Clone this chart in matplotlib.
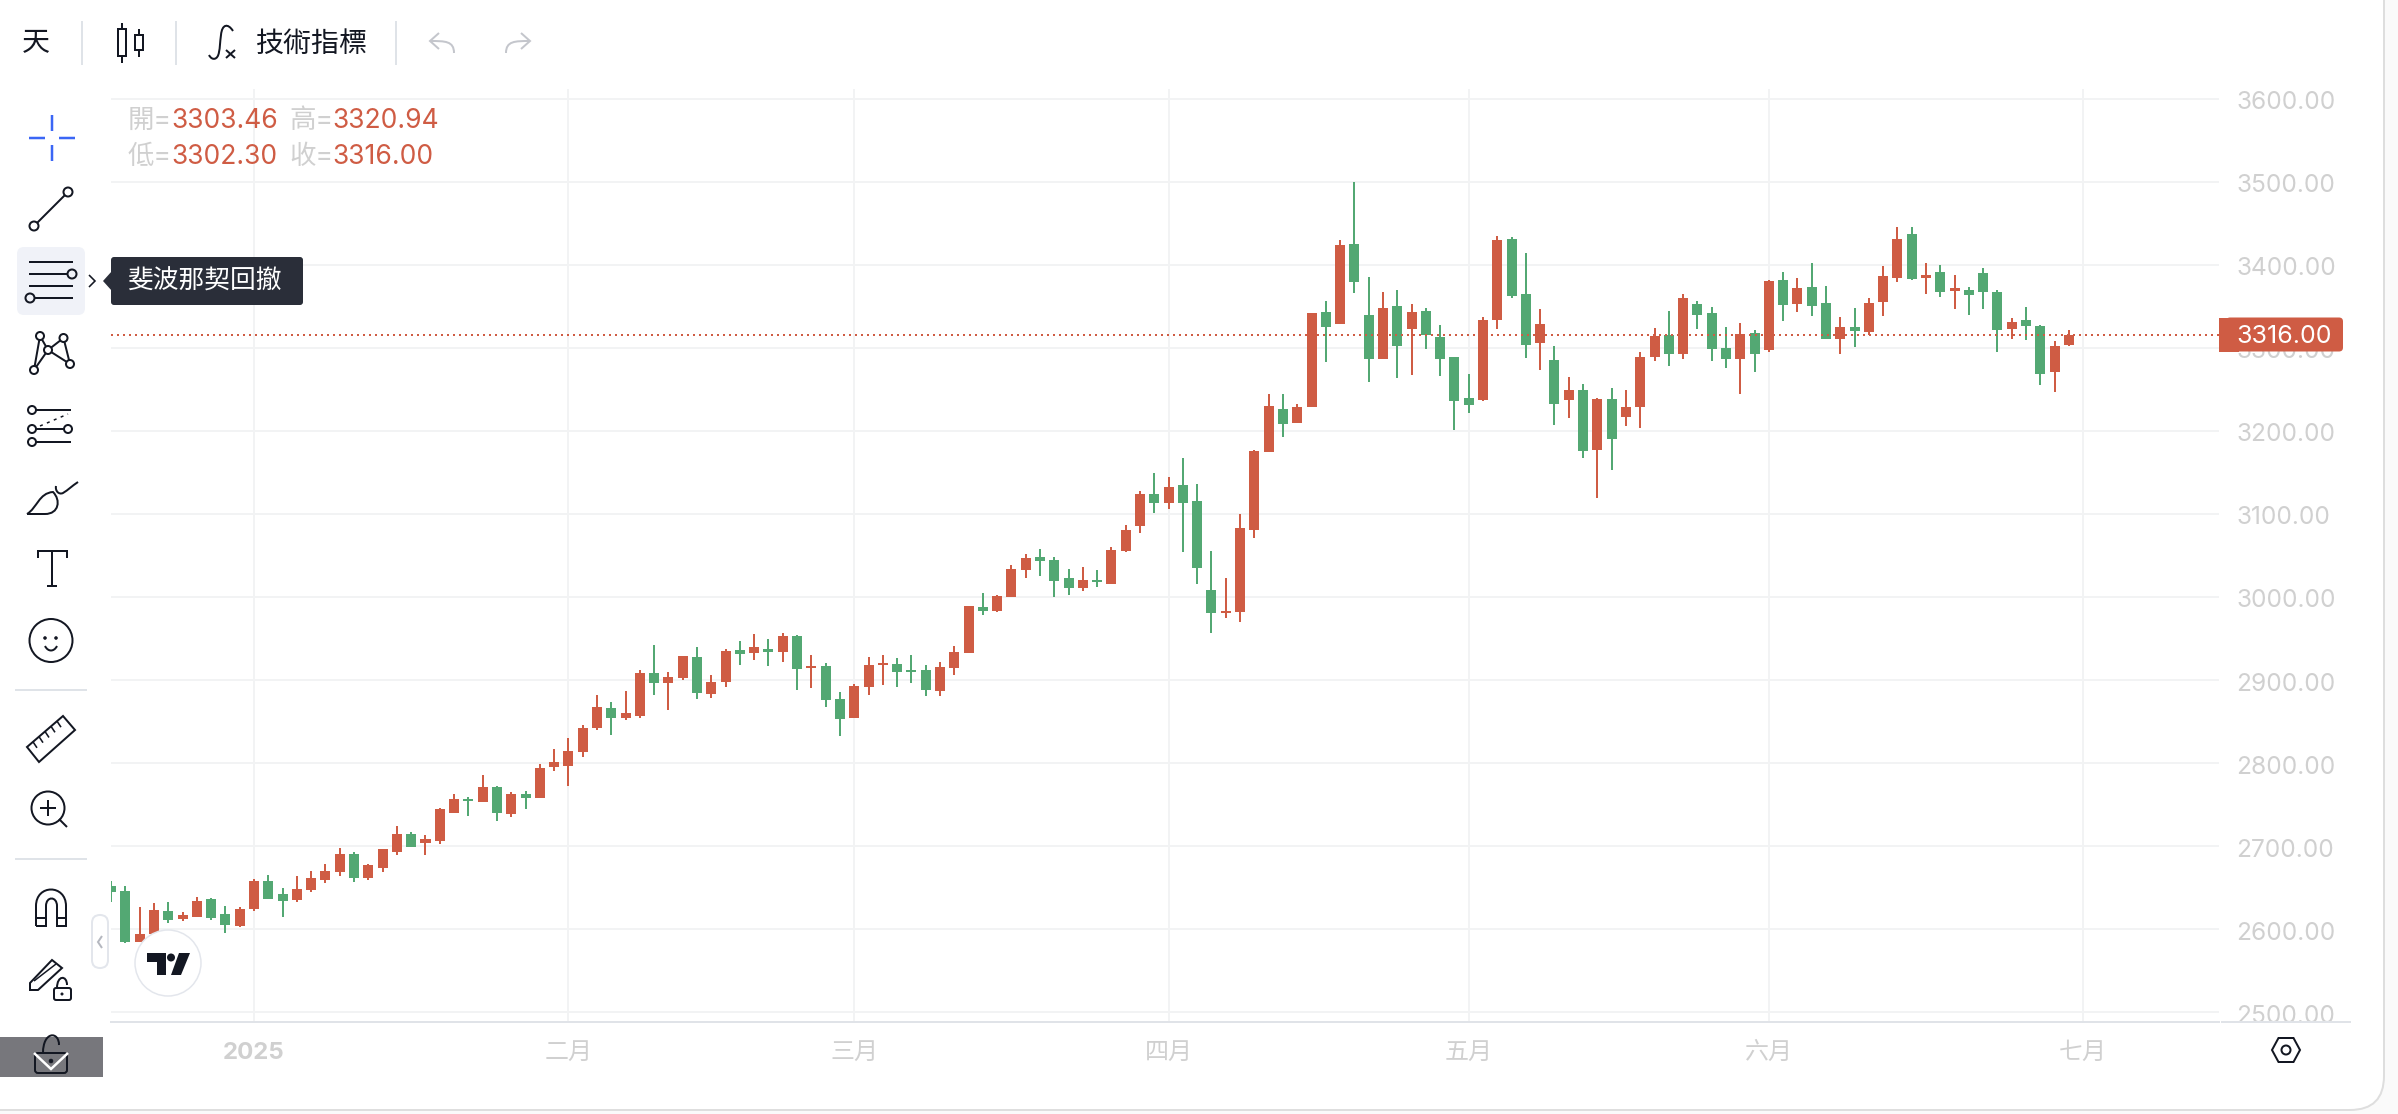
import matplotlib
matplotlib.use('Agg')
import matplotlib.pyplot as plt
import matplotlib.patches as mpatches
from matplotlib.path import Path
from matplotlib.transforms import ScaledTranslation

W, H = 2398, 1114
plt.rcParams['font.family'] = ['Inter', 'Noto Sans CJK TC', 'DejaVu Sans']

# Daily candles, the first bar of 2025 sits at index 0
first_index = -10
opens = [
    2651.5, 2645.5, 2584.1, 2593.8, 2621.5, 2611.8, 2614.2, 2635.9, 2617.8, 2603.4,
    2623.9, 2657.6, 2641.9, 2634.7, 2646.7, 2658.8, 2668.4, 2690.1, 2661.2, 2673.2,
    2692.5, 2714.2, 2703.3, 2705.7, 2739.4, 2756.3, 2752.7, 2770.7, 2738.2, 2762.3,
    2757.5, 2794.8, 2796.0, 2812.9, 2841.8, 2865.9, 2853.8, 2856.2, 2908.0, 2896.0,
    2902.0, 2927.3, 2882.7, 2897.2, 2935.7, 2932.1, 2936.9, 2933.3, 2952.6, 2914.0,
    2916.4, 2876.7, 2853.8, 2891.2, 2917.6, 2918.8, 2911.6, 2911.6, 2886.3, 2914.0,
    2932.1, 2987.6, 2982.8, 3000.0, 3032.6, 3048.3, 3044.7, 3023.0, 3010.9, 3020.6,
    3015.8, 3055.5, 3085.6, 3124.1, 3113.3, 3134.9, 3115.7, 3008.5, 2980.8, 2982.0,
    3080.8, 3174.9, 3226.7, 3209.8, 3229.1, 3343.4, 3329.0, 3425.3, 3339.8, 3286.9,
    3350.7, 3323.0, 3344.7, 3313.3, 3289.3, 3239.9, 3237.5, 3333.8, 3431.3, 3365.1,
    3306.1, 3285.7, 3237.5, 3249.5, 3177.3, 3238.7, 3217.0, 3229.0, 3289.2, 3315.7,
    3292.8, 3353.0, 3342.2, 3300.0, 3286.8, 3318.1, 3297.6, 3381.9, 3353.0, 3373.5,
    3354.2, 3310.9, 3325.3, 3319.3, 3355.4, 3384.3, 3437.3, 3384.3, 3391.5, 3368.6,
    3369.8, 3390.3, 3367.4, 3322.9, 3333.7, 3326.5, 3271.1, 3303.46,
]
highs = [
    2657.6, 2651.5, 2626.3, 2631.1, 2632.3, 2620.2, 2638.3, 2637.1, 2627.5, 2626.3,
    2660.0, 2664.8, 2649.1, 2663.6, 2669.6, 2678.0, 2697.3, 2692.5, 2678.0, 2696.1,
    2723.8, 2716.6, 2712.9, 2745.5, 2762.3, 2758.7, 2785.2, 2771.9, 2764.7, 2765.9,
    2798.4, 2816.5, 2829.7, 2845.4, 2881.5, 2873.1, 2886.3, 2911.6, 2941.7, 2909.2,
    2928.5, 2939.3, 2905.6, 2936.9, 2946.5, 2955.0, 2948.9, 2956.2, 2953.8, 2929.7,
    2920.1, 2885.1, 2894.8, 2927.3, 2929.7, 2926.1, 2929.7, 2917.6, 2921.3, 2940.5,
    2988.7, 3004.4, 3002.0, 3038.1, 3051.9, 3057.9, 3048.3, 3033.8, 3036.2, 3032.6,
    3060.3, 3086.8, 3127.7, 3149.4, 3144.6, 3167.4, 3136.1, 3055.5, 3023.0, 3100.0,
    3177.1, 3244.7, 3244.7, 3232.7, 3342.2, 3356.7, 3430.1, 3500.0, 3385.6, 3367.5,
    3369.9, 3353.1, 3348.3, 3327.8, 3289.3, 3268.8, 3337.4, 3434.9, 3433.7, 3414.5,
    3347.1, 3302.5, 3265.2, 3256.8, 3239.9, 3251.9, 3249.5, 3295.2, 3324.1, 3344.6,
    3365.0, 3356.6, 3349.4, 3325.3, 3330.1, 3321.7, 3381.9, 3391.5, 3384.3, 3402.4,
    3374.7, 3337.3, 3348.2, 3360.2, 3398.7, 3445.7, 3445.7, 3402.4, 3399.9, 3387.9,
    3373.5, 3396.3, 3369.8, 3336.1, 3349.4, 3327.7, 3308.5, 3320.94,
]
lows = [
    2632.3, 2582.9, 2584.1, 2592.0, 2607.0, 2609.4, 2614.2, 2610.6, 2595.0, 2602.2,
    2621.5, 2635.9, 2614.2, 2632.3, 2644.3, 2655.2, 2663.6, 2656.4, 2658.8, 2668.4,
    2688.9, 2698.5, 2688.9, 2702.1, 2739.4, 2735.8, 2752.7, 2729.8, 2734.6, 2744.2,
    2757.5, 2790.0, 2771.9, 2806.9, 2839.4, 2833.4, 2851.4, 2853.8, 2881.5, 2863.5,
    2899.6, 2876.7, 2877.9, 2891.2, 2917.6, 2923.7, 2916.4, 2921.3, 2887.5, 2890.0,
    2867.1, 2832.2, 2853.8, 2881.5, 2893.6, 2891.2, 2896.0, 2880.3, 2880.3, 2905.6,
    2932.1, 2977.9, 2981.6, 3000.0, 3023.0, 3025.4, 3000.1, 3002.5, 3007.3, 3012.1,
    3015.8, 3054.3, 3077.2, 3101.2, 3106.0, 3054.3, 3015.8, 2956.8, 2974.8, 2970.0,
    3071.1, 3174.9, 3193.0, 3209.8, 3229.1, 3283.3, 3329.0, 3366.3, 3259.2, 3286.9,
    3264.0, 3267.6, 3298.9, 3266.4, 3201.4, 3221.9, 3236.3, 3323.0, 3360.3, 3288.1,
    3273.6, 3207.4, 3215.8, 3167.7, 3119.5, 3153.2, 3206.1, 3203.7, 3284.4, 3278.4,
    3286.8, 3322.9, 3284.4, 3275.9, 3244.6, 3271.1, 3295.2, 3332.5, 3343.4, 3338.5,
    3310.9, 3292.8, 3301.2, 3315.7, 3338.5, 3379.5, 3381.9, 3365.0, 3361.4, 3347.0,
    3339.8, 3347.0, 3295.2, 3310.9, 3309.7, 3255.5, 3247.1, 3302.30,
]
closes = [
    2644.3, 2584.1, 2593.8, 2622.7, 2610.6, 2616.6, 2633.5, 2613.0, 2604.6, 2623.9,
    2657.6, 2635.9, 2633.5, 2647.9, 2661.2, 2669.6, 2690.1, 2661.2, 2676.8, 2696.1,
    2714.2, 2698.5, 2708.1, 2744.2, 2756.3, 2753.9, 2770.7, 2739.4, 2762.3, 2757.5,
    2793.6, 2800.8, 2814.1, 2841.8, 2867.1, 2853.8, 2859.9, 2908.0, 2896.0, 2903.2,
    2928.5, 2883.9, 2897.2, 2934.5, 2930.9, 2939.3, 2933.3, 2952.6, 2912.8, 2916.4,
    2875.5, 2852.6, 2892.4, 2917.6, 2920.1, 2909.2, 2909.2, 2887.5, 2915.2, 2933.3,
    2988.7, 2982.8, 3000.8, 3033.3, 3047.1, 3043.4, 3019.4, 3010.9, 3020.6, 3018.2,
    3056.7, 3080.8, 3124.1, 3113.3, 3132.5, 3113.3, 3035.0, 2980.8, 2983.3, 3083.2,
    3175.9, 3230.3, 3208.6, 3229.1, 3342.2, 3325.4, 3424.1, 3379.6, 3286.9, 3348.3,
    3302.5, 3343.4, 3315.8, 3286.9, 3236.3, 3231.5, 3333.8, 3430.1, 3362.7, 3303.7,
    3329.0, 3232.7, 3249.5, 3176.1, 3238.7, 3190.6, 3229.0, 3289.2, 3314.5, 3292.8,
    3360.2, 3339.8, 3298.8, 3286.8, 3316.9, 3292.8, 3380.7, 3351.8, 3372.3, 3350.6,
    3310.9, 3325.3, 3320.5, 3354.2, 3386.7, 3431.2, 3383.1, 3387.9, 3367.4, 3372.3,
    3363.8, 3367.4, 3321.7, 3331.3, 3326.5, 3268.7, 3302.4, 3316.00,
]

price_ticks = [2500, 2600, 2700, 2800, 2900, 3000, 3100, 3200, 3300, 3400, 3500, 3600]
month_ticks = [0, 22, 42, 64, 85, 106, 128]
month_labels = ['2025', '二月', '三月', '四月', '五月', '六月', '七月']

UP = '#cf5c44'
DOWN = '#53a873'
INK = '#131722'
GREY_TEXT = '#d0d0d0'
GRID = '#f2f3f4'
RULE = '#e0e3e8'


def px(n):
    # pixels to points at 100 dpi
    return n * 0.72


fig = plt.figure(figsize=(W / 100, H / 100), dpi=100, facecolor='#fafafa')

# Rounded white card behind everything
back = fig.add_axes([0, 0, 1, 1], zorder=0)
back.set_xlim(0, W)
back.set_ylim(H, 0)
back.axis('off')
back.add_patch(mpatches.FancyBboxPatch((-60, -60), 2444, 1170, boxstyle='round,pad=0,rounding_size=34',
                                       fc='white', ec='#dedede', lw=px(2)))

# Price chart
ax = fig.add_axes([111 / W, 1 - 1021.7 / H, (2219 - 111) / W, (1021.7 - 89) / H], zorder=1)
ax.patch.set_alpha(0)
ax.set_xlim(-10.007, 137.5)
ax.set_ylim(2488.68, 3611.56)

xs = list(range(first_index, first_index + len(closes)))
colors = [UP if c >= o else DOWN for o, c in zip(opens, closes)]
bottoms = [min(o, c) for o, c in zip(opens, closes)]
heights = [abs(c - o) for o, c in zip(opens, closes)]
ax.vlines(xs, lows, highs, colors=colors, linewidth=px(2), zorder=3)
ax.bar(xs, heights, bottom=bottoms, width=0.7, color=colors, linewidth=0, zorder=3)

ax.axhline(closes[-1], color=UP, lw=px(2), ls=(0, (1, 2)), zorder=5)

ax.set_axisbelow(True)
ax.grid(True, color=GRID, lw=px(2))
ax.yaxis.tick_right()
ax.set_yticks(price_ticks)
ax.set_yticklabels([f'{p:.2f}' for p in price_ticks])
ax.set_xticks(month_ticks)
ax.set_xticklabels(month_labels)
ax.get_xticklabels()[0].set_fontweight('bold')
ax.tick_params(axis='y', length=0, pad=px(17.5), labelsize=px(24.5), labelcolor=GREY_TEXT)
ax.tick_params(axis='x', length=0, pad=px(20), labelsize=px(24), labelcolor=GREY_TEXT)
nudge = ScaledTranslation(0, -1.5 / 100, fig.dpi_scale_trans)
for label in ax.get_yticklabels():
    label.set_transform(label.get_transform() + nudge)
for side in ['top', 'left', 'right']:
    ax.spines[side].set_visible(False)
ax.spines['bottom'].set_color(RULE)
ax.spines['bottom'].set_linewidth(px(2))

# Toolbars and chart furniture are laid out in pixels on a top layer
ov = fig.add_axes([0, 0, 1, 1], zorder=2)
ov.set_xlim(0, W)
ov.set_ylim(H, 0)
ov.axis('off')


def line(points, color=INK, width=2.0, **kw):
    ov.plot([p[0] for p in points], [p[1] for p in points], color=color, lw=px(width),
            solid_capstyle='butt', solid_joinstyle='miter', **kw)


def dot(x, y, r=4.5, fc='white', ec=INK, width=2.0, zorder=4):
    ov.add_patch(mpatches.Circle((x, y), r, fc=fc, ec=ec, lw=px(width), zorder=zorder))


def curve(verts, codes, color=INK, width=2.0, fc='none'):
    ov.add_patch(mpatches.PathPatch(Path(verts, codes), fc=fc, ec=color, lw=px(width)))


def box(x0, y0, x1, y1, r=0, fc='none', ec=INK, width=2.0, zorder=2):
    ov.add_patch(mpatches.FancyBboxPatch((x0, y0), x1 - x0, y1 - y0,
                                         boxstyle=f'round,pad=0,rounding_size={r}',
                                         fc=fc, ec=ec, lw=px(width), zorder=zorder))


M, L, C = Path.MOVETO, Path.LINETO, Path.CURVE4

# Rest of the axis rule under the price scale
line([(2221, 1021.7), (2351, 1021.7)], color=RULE)

# Top toolbar
ov.text(36, 44, '天', fontsize=px(28), color=INK, ha='center', va='center')
for sx in [82, 176, 396]:
    line([(sx, 21), (sx, 65)], color='#dfe3e8')
line([(122, 23), (122, 29)])
line([(122, 56), (122, 63)])
box(118, 29, 126, 56)
line([(139, 29), (139, 35)])
line([(139, 50), (139, 57)])
box(135, 35, 143, 50)
curve([(233, 31), (228, 23), (222, 24), (221, 35), (220, 42), (220, 48), (219, 52), (218, 60), (212, 61), (209, 55)],
      [M, C, C, C, C, C, C, C, C, C])
line([(226, 50), (235, 58)])
line([(235, 50), (226, 58)])
ov.text(312, 44, '技術指標', fontsize=px(28), color=INK, ha='center', va='center')
for flip, x0 in [(1, 430), (-1, 530)]:
    curve([(x0, 41), (x0 + flip * 15, 41), (x0 + flip * 24, 41), (x0 + flip * 24, 53)], [M, C, C, C], color='#c4c6cc')
    line([(x0 + flip * 9, 33), (x0, 41), (x0 + flip * 9, 49)], color='#c4c6cc')

# Left toolbar: crosshair
blue = '#3b66f5'
line([(52, 115), (52, 131)], color=blue, width=2.5)
line([(52, 145), (52, 161)], color=blue, width=2.5)
line([(29, 137.5), (45, 137.5)], color=blue, width=2.5)
line([(59, 137.5), (75, 137.5)], color=blue, width=2.5)

# Trend line
line([(34, 226), (68, 192)])
dot(68, 192)
dot(34, 226)

# Fibonacci tool, highlighted, with its tooltip
box(17, 247, 85, 315, r=7, fc='#f0f2f8', ec='none', width=0, zorder=1)
line([(29, 262), (73, 262)])
line([(29, 274), (68, 274)])
line([(29, 286), (73, 286)])
line([(34, 298), (73, 298)])
dot(72, 274, fc='#f0f2f8')
dot(30, 298, fc='#f0f2f8')
line([(89, 275), (95, 281), (89, 287)], width=1.6)
box(111, 257, 303, 305, r=3, fc='#2a2e39', ec='none', width=0)
ov.add_patch(mpatches.Polygon([(103, 281), (112, 271), (112, 291)], fc='#2a2e39', ec='none'))
ov.text(205, 282, '斐波那契回撤', fontsize=px(25.7), color='white', ha='center', va='center')

# XABCD pattern
tl, tr, mid, br, bl = (40, 336), (63.5, 338), (48, 350), (70, 364), (34, 370)
for a, b in [(bl, tl), (tl, mid), (bl, mid), (mid, tr), (mid, br), (tr, br)]:
    line([a, b])
for p in [tl, tr, mid, br, bl]:
    dot(p[0], p[1], r=4)

# Multi-line tool
line([(32, 410), (71, 410)])
line([(32, 429), (68, 429)])
line([(32, 442), (71, 442)])
line([(40, 426), (68, 414)], width=1.5, ls=(0, (2, 3)))
dot(32, 410, r=4)
dot(32, 429, r=4)
dot(68, 429, r=4)
dot(32, 442, r=4)

# Brush
curve([(27, 514), (37, 508), (39, 493), (53, 492), (61, 500), (59, 514), (45, 514), (27, 514)],
      [M, C, C, C, C, C, C, L])
curve([(56, 486), (55, 491), (59, 495), (63, 493), (68, 490), (72, 486), (78, 482)], [M, C, C, C, C, C, C])

# Text tool
line([(38, 558), (38, 551), (67, 551), (67, 558)])
line([(52, 551), (52, 586)])
line([(47, 586), (57, 586)])

# Emoji
dot(51, 640.5, r=21.5, zorder=0.5)
dot(45, 638, r=1.5, fc=INK, width=0.5)
dot(56, 638, r=1.5, fc=INK, width=0.5)
curve([(45, 646), (48, 652), (54, 652), (57, 646)], [M, C, C, C])

line([(15, 689.5), (87, 689.5)], color='#dfe3e8')

# Ruler
ov.add_patch(mpatches.Polygon([(27, 747), (39, 762), (75, 730), (63, 716)], fc='none', ec=INK, lw=px(2)))
for t in range(1, 6):
    f = t / 6
    x0, y0 = 27 + 36 * f, 747 - 31 * f
    line([(x0, y0), (x0 + 4, y0 + 6)], width=1.6)

# Zoom
line([(59, 819), (67, 827)])
dot(48, 808, r=16.5, zorder=0.5)
line([(40, 808), (56, 808)])
line([(48, 800), (48, 816)])

line([(15, 859), (87, 859)], color='#dfe3e8')

# Magnet
curve([(36, 926), (36, 906), (36, 884), (66, 884), (66, 906), (66, 926), (57, 926), (57, 906), (57, 896), (46, 896),
       (46, 906), (46, 926), (36, 926)],
      [M, L, C, C, C, L, L, L, C, C, C, L, L])
line([(36, 918), (46, 918)])
line([(57, 918), (66, 918)])

# Drawing lock
ov.add_patch(mpatches.Polygon([(30, 983), (52, 960), (62, 968), (38, 990), (30, 990)], fc='none', ec=INK, lw=px(2)))
line([(34, 981), (56, 964)], width=1.5)
box(54, 988, 71, 1000, r=2)
curve([(57, 988), (57, 975), (67, 975), (67, 985)], [M, C, C, C])
dot(62, 994, r=1.2, fc=INK, width=0.5)

# Grey strip with the lock and the white check mark
ov.add_patch(mpatches.Rectangle((0, 1037), 103, 40, fc='#77777c', ec='none'))
box(35, 1053, 67, 1073, r=3)
curve([(43, 1053), (43, 1031), (59, 1031), (59, 1045)], [M, C, C, C])
dot(51, 1061, r=2, fc=INK, width=0.5)
line([(34, 1053), (51, 1069), (68, 1053)], color='white', width=2.5)

# Collapse handle
box(92, 915, 108, 968, r=8, fc='white', ec='#e3e6ec')
line([(102, 936), (98, 942), (102, 948)], color='#b5b8c0')

# Logo badge
dot(168, 963, r=33, ec='#e3e6ec', width=1.5)
ov.add_patch(mpatches.Polygon([(147, 953), (166, 953), (166, 975), (157, 975), (157, 962), (147, 962)], fc=INK, ec='none', zorder=5))
ov.add_patch(mpatches.Circle((171, 957.5), 4, fc=INK, ec='none', zorder=5))
ov.add_patch(mpatches.Polygon([(179, 953), (190, 953), (181, 975), (171, 975)], fc=INK, ec='none', zorder=5))

# Settings hexagon in the corner
ov.add_patch(mpatches.Polygon([(2272, 1050), (2278.5, 1038), (2293.5, 1038), (2300, 1050), (2293.5, 1062), (2278.5, 1062)],
                              fc='none', ec=INK, lw=px(2)))
dot(2286, 1050, r=4.5)

# OHLC readout of the last bar
readout = [(120.5, '開=', opens[-1], '高=', highs[-1]), (157.5, '低=', lows[-1], '收=', closes[-1])]
for y, name_a, val_a, name_b, val_b in readout:
    ov.text(128, y, name_a, fontsize=px(26.5), color=GREY_TEXT, ha='left', va='center')
    ov.text(171.5, y, f'{val_a:.2f}', fontsize=px(26.5), color=UP, ha='left', va='center')
    ov.text(289, y, name_b, fontsize=px(26.5), color=GREY_TEXT, ha='left', va='center')
    ov.text(332, y, f'{val_b:.2f}', fontsize=px(26.5), color=UP, ha='left', va='center')

# Last price tag on the scale
tag_y = H - ax.transData.transform((0, closes[-1]))[1]
box(2226, tag_y - 17, 2343, tag_y + 17, r=4, fc=UP, ec='none', width=0, zorder=3)
ov.add_patch(mpatches.Rectangle((2219, tag_y - 17), 20, 34, fc=UP, ec='none', zorder=3))
ov.text(2284.5, tag_y + 1.5, f'{closes[-1]:.2f}', fontsize=px(25), color='white', ha='center', va='center', zorder=4)

fig.savefig('out.png', dpi=100, facecolor=fig.get_facecolor())
